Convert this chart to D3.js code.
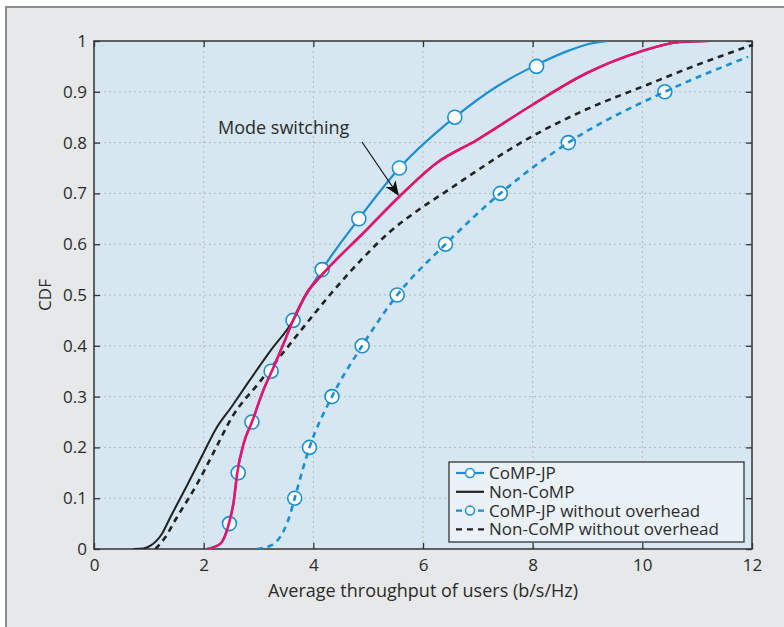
<!DOCTYPE html>
<html>
<head>
<meta charset="utf-8">
<script src="https://cdn.jsdelivr.net/npm/d3@7"></script>
<style>
  body { margin: 0; background: #ffffff; }
  text { font-family: "Open Sans", "Noto Sans", sans-serif; fill: #2b2b2b; }
</style>
</head>
<body>
<svg id="canvas" width="784" height="627"></svg>
<script>
// throughput (b/s/Hz) and CDF values
let compJpTput = [2.06, 2.30, 2.46, 2.55, 2.61, 2.73, 2.88, 3.09, 3.25, 3.46, 3.63, 4.16, 4.83, 5.57, 6.58, 7.34, 8.07, 8.68, 9.02, 9.38]
let compJpCdf = [0, 0.01, 0.05, 0.095, 0.148, 0.208, 0.25, 0.313, 0.352, 0.405, 0.45, 0.55, 0.65, 0.75, 0.85, 0.91, 0.953, 0.982, 0.994, 1.0]

let nonCompTput = [0.72, 0.90, 1.03, 1.24, 1.39, 1.55, 1.71, 2.02, 2.21, 2.51, 2.80, 3.23, 3.88, 4.16, 4.92, 5.58, 6.25, 6.98, 7.99, 8.97, 9.96, 10.69, 11.2]
let nonCompCdf = [0, 0.001, 0.0065, 0.03, 0.062, 0.095, 0.128, 0.194, 0.234, 0.28, 0.326, 0.392, 0.504, 0.54, 0.623, 0.695, 0.76, 0.805, 0.874, 0.936, 0.979, 0.998, 1.0]

let compJpNoOhTput = [2.97, 3.22, 3.46, 3.58, 3.66, 3.93, 4.34, 4.89, 5.53, 6.41, 7.41, 8.65, 10.41, 11.93]
let compJpNoOhCdf = [0, 0.0065, 0.036, 0.069, 0.1, 0.2, 0.3, 0.4, 0.5, 0.6, 0.7, 0.8, 0.9, 0.969]

let nonCompNoOhTput = [1.12, 1.28, 1.51, 1.88, 2.20, 2.52, 3.00, 3.49, 3.98, 4.30, 4.88, 5.38, 5.82, 6.45, 7.95, 8.95, 10.0, 11.0, 12.0]
let nonCompNoOhCdf = [0, 0.02, 0.062, 0.128, 0.194, 0.26, 0.326, 0.392, 0.458, 0.5, 0.57, 0.623, 0.66, 0.706, 0.81, 0.864, 0.91, 0.953, 0.992]

let compJpMarkTput = [2.47, 2.63, 2.88, 3.23, 3.63, 4.16, 4.83, 5.57, 6.58, 8.07]
let compJpMarkCdf = [0.05, 0.15, 0.25, 0.35, 0.45, 0.55, 0.65, 0.75, 0.85, 0.95]
let compJpNoOhMarkTput = [3.66, 3.93, 4.34, 4.89, 5.53, 6.41, 7.41, 8.65, 10.41]
let compJpNoOhMarkCdf = [0.1, 0.2, 0.3, 0.4, 0.5, 0.6, 0.7, 0.8, 0.9]

let switchCdf = 0.45 // mode switching: CoMP-JP below, Non-CoMP above

let xTicks = [0, 2, 4, 6, 8, 10, 12]
let yTicks = [0, 0.1, 0.2, 0.3, 0.4, 0.5, 0.6, 0.7, 0.8, 0.9, 1]

let legendNames = ['CoMP-JP', 'Non-CoMP', 'CoMP-JP without overhead', 'Non-CoMP without overhead']

let blue = '#1b8fd2'
let pink = '#e5156f'
let black = '#222222'

let canvas = d3.select('#canvas')

let plotLeft = 94, plotRight = 752, plotTop = 41, plotBottom = 549

let xScale = d3.scaleLinear().domain([0, 12]).range([plotLeft, plotRight])
let yScale = d3.scaleLinear().domain([0, 1]).range([plotBottom, plotTop])

let zip = (xs, ys) => xs.map((x, i) => [x, ys[i]])

let compJp = zip(compJpTput, compJpCdf)
let nonComp = zip(nonCompTput, nonCompCdf)
let compJpNoOh = zip(compJpNoOhTput, compJpNoOhCdf)
let nonCompNoOh = zip(nonCompNoOhTput, nonCompNoOhCdf)
let modeSwitch = compJp.filter(d => d[1] <= switchCdf).concat(nonComp.filter(d => d[1] > switchCdf))
// the non-CoMP curve runs into the crossing point before following the switching curve
let nonCompLine = nonComp.filter(d => d[1] < switchCdf)
  .concat([[compJpTput[compJpCdf.indexOf(switchCdf)], switchCdf]])
  .concat(nonComp.filter(d => d[1] > switchCdf))

// frame
canvas.append('rect')
  .attr('x', 6).attr('y', 7).attr('width', 800).attr('height', 640)
  .attr('fill', '#e7e8e9').attr('stroke', '#8e8e8e').attr('stroke-width', 2)

canvas.append('rect')
  .attr('x', plotLeft).attr('y', plotTop).attr('width', plotRight - plotLeft).attr('height', plotBottom - plotTop)
  .attr('fill', '#d6e7f1')

canvas.append('clipPath').attr('id', 'clip')
  .append('rect')
  .attr('x', plotLeft).attr('y', plotTop).attr('width', plotRight - plotLeft).attr('height', plotBottom - plotTop)

// grid
let grid = canvas.append('g')
grid.selectAll('.gx')
  .data(xTicks.slice(1, -1))
  .enter()
  .append('line')
  .attr('x1', d => xScale(d)).attr('x2', d => xScale(d))
  .attr('y1', plotTop).attr('y2', plotBottom)
  .attr('stroke', '#b9b9b9').attr('stroke-dasharray', '2,3').attr('stroke-width', 1)
grid.selectAll('.gy')
  .data(yTicks.slice(1, -1))
  .enter()
  .append('line')
  .attr('y1', d => yScale(d)).attr('y2', d => yScale(d))
  .attr('x1', plotLeft).attr('x2', plotRight)
  .attr('stroke', '#b9b9b9').attr('stroke-dasharray', '2,3').attr('stroke-width', 1)

// axes
canvas.append('g')
  .attr('transform', 'translate(0,' + plotBottom + ')')
  .call(d3.axisBottom(xScale).tickValues(xTicks).tickSizeInner(-6).tickSizeOuter(0).tickPadding(10))
canvas.append('g')
  .attr('transform', 'translate(' + plotLeft + ',0)')
  .call(d3.axisLeft(yScale).tickValues(yTicks).tickSizeInner(-6).tickSizeOuter(0).tickPadding(7)
    .tickFormat(d => d === 0 || d === 1 ? String(d) : d3.format('.1f')(d)))
canvas.append('g')
  .attr('transform', 'translate(0,' + plotTop + ')')
  .call(d3.axisTop(xScale).tickValues(xTicks).tickSizeInner(-6).tickSizeOuter(0).tickFormat(''))
canvas.append('g')
  .attr('transform', 'translate(' + plotRight + ',0)')
  .call(d3.axisRight(yScale).tickValues(yTicks).tickSizeInner(-6).tickSizeOuter(0).tickFormat(''))

canvas.selectAll('.domain').remove()
canvas.selectAll('.tick line').attr('stroke', '#333').attr('stroke-width', 1.3)
canvas.selectAll('.tick text').style('font-size', '17px').attr('fill', '#2b2b2b')
  .style('font-family', '"Open Sans", sans-serif')

canvas.append('rect')
  .attr('x', plotLeft).attr('y', plotTop).attr('width', plotRight - plotLeft).attr('height', plotBottom - plotTop)
  .attr('fill', 'none').attr('stroke', '#333').attr('stroke-width', 1.5)

// lines
let line = d3.line()
  .x(d => xScale(d[0]))
  .y(d => yScale(d[1]))
  .curve(d3.curveMonotoneX)

let plot = canvas.append('g').attr('clip-path', 'url(#clip)')

let circles = (g, xs, ys, r) => {
  g.selectAll('circle')
    .data(zip(xs, ys))
    .enter()
    .append('circle')
    .attr('cx', d => xScale(d[0]))
    .attr('cy', d => yScale(d[1]))
    .attr('r', r)
    .attr('fill', '#ffffff')
    .attr('stroke', blue)
    .attr('stroke-width', 1.6)
}

plot.append('path').attr('d', line(nonCompNoOh))
  .attr('fill', 'none').attr('stroke', black).attr('stroke-width', 2.6).attr('stroke-dasharray', '6,5')

let noOhMarks = plot.append('g')
circles(noOhMarks, compJpNoOhMarkTput, compJpNoOhMarkCdf, 7)
plot.append('path').attr('d', line(compJpNoOh))
  .attr('fill', 'none').attr('stroke', blue).attr('stroke-width', 2.6).attr('stroke-dasharray', '6,5')

plot.append('path').attr('d', line(compJp))
  .attr('fill', 'none').attr('stroke', blue).attr('stroke-width', 2.2)
let jpMarks = plot.append('g')
circles(jpMarks, compJpMarkTput, compJpMarkCdf, 7)

plot.append('path').attr('d', line(nonCompLine))
  .attr('fill', 'none').attr('stroke', black).attr('stroke-width', 2)

plot.append('path').attr('d', line(modeSwitch))
  .attr('fill', 'none').attr('stroke', pink).attr('stroke-width', 2.6)

// annotation
canvas.append('text')
  .attr('x', 218).attr('y', 134)
  .style('font-size', '18px')
  .text('Mode switching')

let ax0 = 362, ay0 = 142, ax1 = 399, ay1 = 196
canvas.append('line')
  .attr('x1', ax0).attr('y1', ay0).attr('x2', ax1 - 5).attr('y2', ay1 - 7)
  .attr('stroke', '#111').attr('stroke-width', 1.2)
let ang = Math.atan2(ay1 - ay0, ax1 - ax0) * 180 / Math.PI
canvas.append('path')
  .attr('d', 'M0,0 L-15,-6 L-11,0 L-15,6 Z')
  .attr('transform', 'translate(' + ax1 + ',' + ay1 + ') rotate(' + ang + ')')
  .attr('fill', '#111')

// legend
let lx = 449, ly = 462, lw = 295, lh = 80
let legend = canvas.append('g')
legend.append('rect')
  .attr('x', lx).attr('y', ly).attr('width', lw).attr('height', lh)
  .attr('fill', '#eaf2f8').attr('stroke', '#333').attr('stroke-width', 1.3)

let legendStyles = [
  { color: blue, dash: null, marker: true, width: 2.2 },
  { color: black, dash: null, marker: false, width: 2.2 },
  { color: blue, dash: '6,5', marker: true, width: 2.4 },
  { color: black, dash: '6,5', marker: false, width: 2.4 }
]

legendNames.forEach((name, i) => {
  let cy = ly + 11 + i * 18.8
  let s = legendStyles[i]
  legend.append('line')
    .attr('x1', 456).attr('x2', 484).attr('y1', cy).attr('y2', cy)
    .attr('stroke', s.color).attr('stroke-width', s.width)
    .attr('stroke-dasharray', s.dash)
  if (s.marker) {
    legend.append('circle')
      .attr('cx', 470).attr('cy', cy).attr('r', 4.5)
      .attr('fill', '#ffffff').attr('stroke', blue).attr('stroke-width', 1.5)
  }
  legend.append('text')
    .attr('x', 489).attr('y', cy + 6)
    .style('font-size', '17px')
    .text(name)
})

// axis labels
canvas.append('text')
  .attr('x', (plotLeft + plotRight) / 2).attr('y', 597)
  .attr('text-anchor', 'middle')
  .style('font-size', '18px')
  .text('Average throughput of users (b/s/Hz)')

canvas.append('text')
  .attr('transform', 'translate(51,' + ((plotTop + plotBottom) / 2) + ') rotate(-90)')
  .attr('text-anchor', 'middle')
  .style('font-size', '17px')
  .text('CDF')
</script>
</body>
</html>
